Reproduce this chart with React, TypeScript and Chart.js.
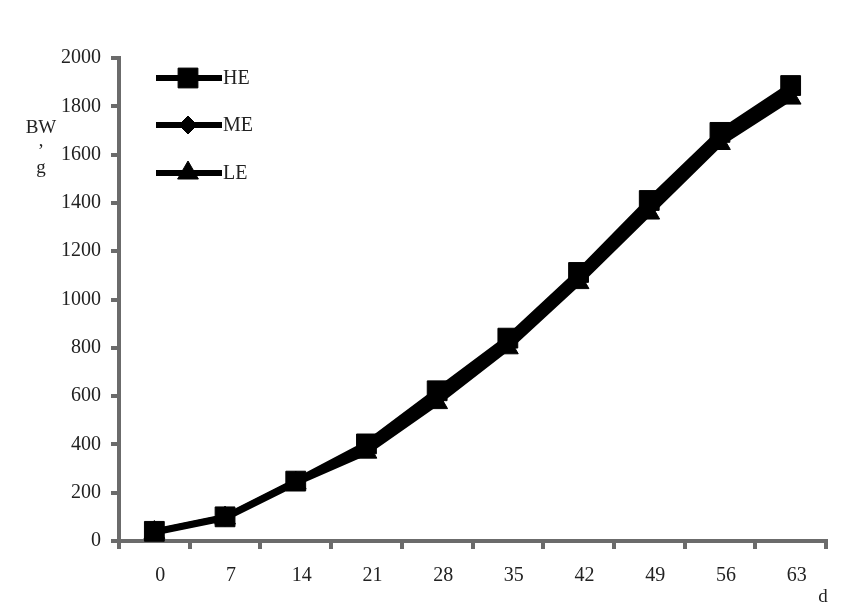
import React, { useEffect, useRef } from "react";
import { Chart, registerables } from "chart.js";
import { drawPoint } from "chart.js/helpers";

Chart.register(...registerables);

const days = ["0", "7", "14", "21", "28", "35", "42", "49", "56", "63"];
const heValues = [40, 100, 248, 402, 622, 840, 1112, 1410, 1692, 1886];
const meValues = [38, 98, 245, 388, 600, 820, 1094, 1386, 1670, 1860];
const leValues = [35, 95, 240, 368, 573, 800, 1070, 1358, 1646, 1834];
const yTicks = [0, 200, 400, 600, 800, 1000, 1200, 1400, 1600, 1800, 2000];

const SERIF = "'Liberation Serif', 'DejaVu Serif', serif";
const AXIS_GREY = "#6b6b6b";
const TEXT = "#222222";

const legendRows = [78, 125, 173];

const customLegend = {
  id: "customLegend",
  afterDraw(chart: any) {
    const ctx = chart.ctx;
    ctx.save();
    chart.data.datasets.forEach((ds: any, i: number) => {
      const y = legendRows[i];
      ctx.strokeStyle = ds.borderColor;
      ctx.lineWidth = 6;
      ctx.beginPath();
      ctx.moveTo(156, y);
      ctx.lineTo(222, y);
      ctx.stroke();
      ctx.fillStyle = ds.pointBackgroundColor;
      ctx.strokeStyle = ds.pointBorderColor;
      ctx.lineWidth = 1;
      drawPoint(ctx, { pointStyle: ds.pointStyle, radius: ds.pointRadius, borderWidth: 1, rotation: 0 }, 188, y);
      ctx.fillStyle = TEXT;
      ctx.font = `20px ${SERIF}`;
      ctx.textBaseline = "middle";
      ctx.textAlign = "left";
      ctx.fillText(ds.label, 223, y + 1);
    });
    // axis titles
    ctx.fillStyle = TEXT;
    ctx.font = `19px ${SERIF}`;
    ctx.textAlign = "center";
    ctx.textBaseline = "middle";
    ctx.fillText("BW", 41, 128);
    ctx.fillText("’", 41, 152);
    ctx.fillText("g", 41, 168);
    ctx.fillText("d", 823, 597);
    ctx.restore();
  },
};

export default function App() {
  const ref = useRef<HTMLCanvasElement | null>(null);
  useEffect(() => {
    document.body.style.margin = "0";
    if (!ref.current) return;
    const mk = (label: string, data: number[], style: string, radius: number) => ({
      label,
      data,
      borderColor: "#000000",
      backgroundColor: "#000000",
      pointBackgroundColor: "#000000",
      pointBorderColor: "#000000",
      pointStyle: style,
      pointRadius: radius,
      pointBorderWidth: 1,
      borderWidth: 6,
      tension: 0,
      fill: false,
      clip: false as any,
    });
    const chart = new Chart(ref.current, {
      type: "line",
      data: {
        labels: days,
        datasets: [
          mk("HE", heValues, "rect", 14),
          mk("ME", meValues, "rectRot", 9),
          mk("LE", leValues, "triangle", 12),
        ],
      },
      options: {
        responsive: false,
        animation: false,
        devicePixelRatio: 1,
        layout: { padding: { top: 58, right: 23, left: 0, bottom: 0 } },
        plugins: {
          legend: { display: false },
          tooltip: { enabled: false },
          title: { display: false },
        },
        scales: {
          x: {
            type: "category",
            offset: true,
            grid: {
              offset: true,
              drawOnChartArea: false,
              drawTicks: true,
              tickLength: 8,
              color: AXIS_GREY,
              lineWidth: 4,
            },
            border: { display: true, color: AXIS_GREY, width: 4 },
            ticks: {
              color: TEXT,
              font: { family: SERIF, size: 20 },
              padding: 15,
              labelOffset: 6,
              maxRotation: 0,
              autoSkip: false,
            },
            afterFit: (scale: any) => {
              scale.height = 67;
            },
          },
          y: {
            min: 0,
            max: 2000,
            afterBuildTicks: (scale: any) => {
              scale.ticks = yTicks.map((v) => ({ value: v }));
            },
            grid: {
              drawOnChartArea: false,
              drawTicks: true,
              tickLength: 8,
              color: AXIS_GREY,
              lineWidth: 4,
            },
            border: { display: true, color: AXIS_GREY, width: 4 },
            ticks: {
              color: TEXT,
              font: { family: SERIF, size: 20 },
              padding: 10,
              callback: (v: any) => String(v),
            },
            afterFit: (scale: any) => {
              scale.width = 119;
            },
          },
        },
      },
      plugins: [customLegend],
    });
    return () => chart.destroy();
  }, []);
  return (
    <div style={{ width: 849, height: 608, background: "#ffffff" }}>
      <canvas ref={ref} width={849} height={608} style={{ display: "block" }} />
    </div>
  );
}
